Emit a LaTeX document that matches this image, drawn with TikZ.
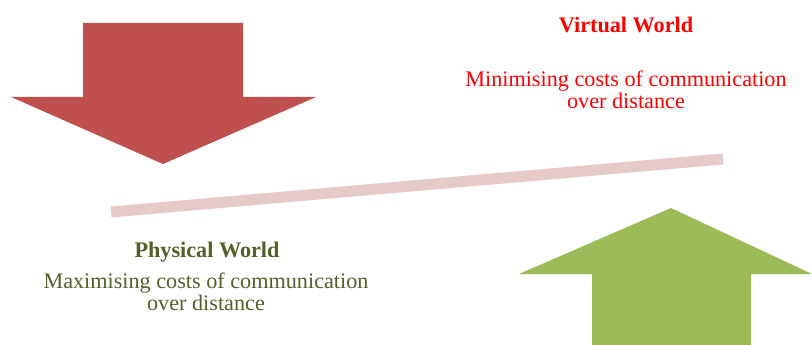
\documentclass[tikz,border=0pt]{standalone}
\usepackage{fontspec}
\setmainfont{Liberation Serif}
\definecolor{arrred}{HTML}{C0504D}
\definecolor{arrgreen}{HTML}{9BBB59}
\definecolor{barpink}{HTML}{E6CACA}
\definecolor{txtgreen}{HTML}{4F6228}
\definecolor{txtred}{HTML}{FF0000}
\begin{document}
\begin{tikzpicture}[x=1pt,y=-1pt,
  lbl/.style={inner sep=0pt, align=center, font=\fontsize{22.2}{22}\selectfont},
  ttl/.style={inner sep=0pt, font=\fontsize{22.2}{22}\selectfont\bfseries}]
\useasboundingbox (0,0) rectangle (812,345);
% red down arrow
\fill[arrred] (83,23) -- (243,23) -- (243,97) -- (316,97) -- (163,164) -- (11,97) -- (83,97) -- cycle;
% green up arrow
\fill[arrgreen] (592,345) -- (592,274) -- (519,274) -- (671,208) -- (812,274) -- (751,274) -- (751,345) -- cycle;
% balance bar
\draw[barpink, line width=11pt] (111,212) -- (723,159);
% texts
\node[ttl, text=txtred] (vw) at (626,25) {Virtual World};
\node[lbl, text=txtred] (vwd) at (626,90) {Minimising costs of communication\\over distance};
\node[ttl, text=txtgreen] (pw) at (207,252) {Physical World};
\node[lbl, text=txtgreen] (pwd) at (206,292) {Maximising costs of communication\\over distance};
\end{tikzpicture}
\end{document}
